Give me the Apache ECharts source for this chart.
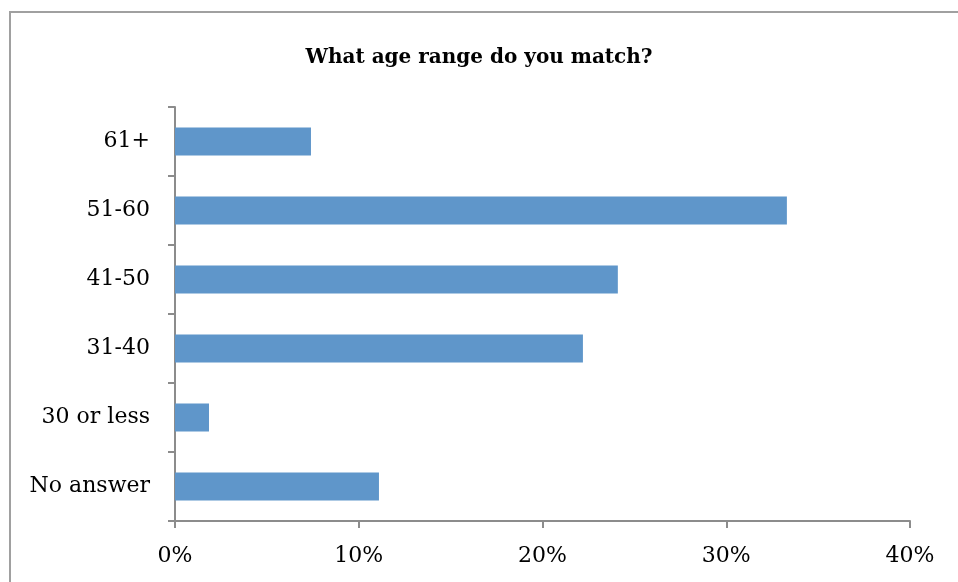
<!DOCTYPE html>
<html>
<head>
<meta charset="utf-8">
<script src="https://cdn.jsdelivr.net/npm/echarts@6/dist/echarts.min.js"></script>
<style>
html,body{margin:0;padding:0;background:#fff;}
#chart{width:958px;height:582px;}
</style>
</head>
<body>
<div id="chart"></div>
<script>
const categories = ['No answer', '30 or less', '31-40', '41-50', '51-60', '61+'];
const values = [11.1, 1.85, 22.2, 24.1, 33.3, 7.4];
const xTicks = [0, 10, 20, 30, 40];

const chart = echarts.init(document.getElementById('chart'), null, {renderer: 'canvas'});
const axisColor = '#8c8c8c';
const font = '"DejaVu Serif", "Liberation Serif", serif';
chart.setOption({
  animation: false,
  backgroundColor: '#fff',
  graphic: [{
    type: 'rect',
    shape: {x: 10, y: 12, width: 1000, height: 700},
    style: {fill: 'none', stroke: '#a0a0a0', lineWidth: 2},
    silent: true
  }],
  title: {
    text: 'What age range do you match?',
    left: 'center',
    top: 43,
    textStyle: {fontFamily: font, fontWeight: 'bold', fontSize: 20, color: '#000'}
  },
  grid: {left: 175, right: 48, top: 107, bottom: 61, containLabel: false},
  xAxis: {
    type: 'value',
    min: xTicks[0],
    max: xTicks[xTicks.length - 1],
    interval: 10,
    axisLine: {show: true, lineStyle: {color: axisColor, width: 2}},
    axisTick: {show: true, length: 7, lineStyle: {color: axisColor, width: 2}},
    splitLine: {show: false},
    axisLabel: {
      formatter: v => v + '%',
      fontFamily: font, fontSize: 22, color: '#000', margin: 24
    }
  },
  yAxis: {
    type: 'category',
    data: categories,
    axisLine: {show: true, lineStyle: {color: axisColor, width: 2}},
    axisTick: {show: true, length: 7, lineStyle: {color: axisColor, width: 2}},
    axisLabel: {fontFamily: font, fontSize: 22, color: '#000', margin: 25, padding: [8, 0, 0, 0]}
  },
  series: [{
    type: 'bar',
    data: values,
    barWidth: 28,
    itemStyle: {color: '#5f96ca'}
  }]
});
</script>
</body>
</html>
